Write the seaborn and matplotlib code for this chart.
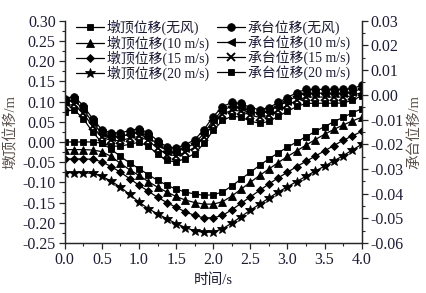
import numpy as np
import pandas as pd
import matplotlib
matplotlib.use("Agg")
import matplotlib.pyplot as plt
import seaborn as sns
from matplotlib.ticker import MultipleLocator

# ---- data ----
time_s = [0.0, 0.125, 0.25, 0.375, 0.5, 0.625, 0.75, 0.875, 1.0, 1.125, 1.25, 1.375,
          1.5, 1.625, 1.75, 1.875, 2.0, 2.125, 2.25, 2.375, 2.5, 2.625, 2.75, 2.875,
          3.0, 3.125, 3.25, 3.375, 3.5, 3.625, 3.75, 3.875, 4.0]

# pier-top displacement (left axis, m)
pier_nowind = [0.000, 0.000, 0.000, 0.000, -0.003, -0.018, -0.036, -0.052, -0.066, -0.081,
               -0.095, -0.107, -0.117, -0.124, -0.129, -0.132, -0.131, -0.124, -0.109, -0.092,
               -0.075, -0.058, -0.042, -0.027, -0.013, 0.000, 0.013, 0.026, 0.038, 0.050,
               0.061, 0.072, 0.082]
pier_10 = [-0.019, -0.019, -0.019, -0.020, -0.024, -0.036, -0.053, -0.069, -0.083, -0.098,
           -0.112, -0.124, -0.135, -0.144, -0.150, -0.154, -0.154, -0.148, -0.134, -0.117,
           -0.100, -0.083, -0.067, -0.051, -0.036, -0.022, -0.008, 0.006, 0.019, 0.031,
           0.042, 0.052, 0.061]
pier_15 = [-0.042, -0.042, -0.042, -0.043, -0.049, -0.061, -0.075, -0.091, -0.107, -0.122,
           -0.137, -0.150, -0.162, -0.173, -0.182, -0.188, -0.188, -0.182, -0.168, -0.152,
           -0.136, -0.120, -0.104, -0.089, -0.075, -0.061, -0.048, -0.035, -0.022, -0.009,
           0.004, 0.015, 0.026]
pier_20 = [-0.076, -0.076, -0.076, -0.078, -0.085, -0.097, -0.112, -0.130, -0.149, -0.165,
           -0.178, -0.190, -0.202, -0.212, -0.220, -0.224, -0.223, -0.215, -0.201, -0.185,
           -0.169, -0.154, -0.139, -0.124, -0.111, -0.098, -0.085, -0.072, -0.060, -0.047,
           -0.034, -0.020, -0.006]

# pile-cap displacement (right axis, m)
cap_nowind = [-0.0015, -0.0007, -0.0044, -0.0097, -0.0141, -0.0154, -0.0154, -0.0145, -0.0137,
              -0.0154, -0.0186, -0.0211, -0.0215, -0.0202, -0.0182, -0.0141, -0.0088, -0.0048,
              -0.0031, -0.0035, -0.0052, -0.0060, -0.0052, -0.0031, -0.0011, 0.0009, 0.0022,
              0.0022, 0.0022, 0.0022, 0.0022, 0.0026, 0.0038]
cap_10 = [-0.0030, -0.0022, -0.0059, -0.0112, -0.0156, -0.0169, -0.0169, -0.0160, -0.0152,
          -0.0169, -0.0201, -0.0226, -0.0230, -0.0217, -0.0197, -0.0156, -0.0103, -0.0063,
          -0.0046, -0.0050, -0.0067, -0.0075, -0.0067, -0.0046, -0.0026, -0.0006, 0.0007,
          0.0007, 0.0007, 0.0007, 0.0007, 0.0012, 0.0025]
cap_15 = [-0.0046, -0.0038, -0.0075, -0.0128, -0.0172, -0.0185, -0.0185, -0.0176, -0.0168,
          -0.0185, -0.0217, -0.0242, -0.0246, -0.0233, -0.0213, -0.0172, -0.0119, -0.0079,
          -0.0062, -0.0066, -0.0083, -0.0091, -0.0083, -0.0062, -0.0042, -0.0022, -0.0009,
          -0.0009, -0.0009, -0.0009, -0.0009, -0.0004, 0.0010]
cap_20 = [-0.0068, -0.0060, -0.0097, -0.0150, -0.0194, -0.0208, -0.0208, -0.0200, -0.0192,
          -0.0208, -0.0240, -0.0266, -0.0272, -0.0258, -0.0238, -0.0197, -0.0144, -0.0104,
          -0.0087, -0.0090, -0.0107, -0.0115, -0.0108, -0.0087, -0.0067, -0.0047, -0.0035,
          -0.0034, -0.0034, -0.0034, -0.0033, -0.0022, -0.0004]

pier_labels = ["墩顶位移(无风)", "墩顶位移(10 m/s)", "墩顶位移(15 m/s)", "墩顶位移(20 m/s)"]
cap_labels = ["承台位移(无风)", "承台位移(10 m/s)", "承台位移(15 m/s)", "承台位移(20 m/s)"]
x_label = "时间/s"
y_left_label = "墩顶位移/m"
y_right_label = "承台位移/m"

# ---- style ----
sns.set_style("ticks")
plt.rcParams["font.family"] = ["Liberation Serif", "Noto Sans CJK SC"]
plt.rcParams["axes.unicode_minus"] = False
TICK_C = "#1c1c3a"
LAB_C = "#5a504a"

fig = plt.figure(figsize=(4.26, 2.93), dpi=100)
ax = fig.add_axes([0.152, 0.171, 0.697, 0.758])
ax2 = ax.twinx()

pier_series = [pier_nowind, pier_10, pier_15, pier_20]
pier_markers = ["s", "^", "D", "*"]
pier_ms = [5, 5.5, 4.5, 7.5]
cap_series = [cap_nowind, cap_10, cap_15, cap_20]
cap_markers = ["o", "<", "x", "s"]
cap_ms = [5.5, 5.5, 5.5, 5]

for vals, mk, ms, lab in zip(pier_series, pier_markers, pier_ms, pier_labels):
    df = pd.DataFrame({"t": time_s, "v": vals})
    sns.lineplot(data=df, x="t", y="v", ax=ax, color="black", marker=mk,
                 markersize=ms, linewidth=0.9, markeredgewidth=0.6,
                 markeredgecolor="black", label=lab, legend=False)

for vals, mk, ms, lab in zip(cap_series, cap_markers, cap_ms, cap_labels):
    df = pd.DataFrame({"t": time_s, "v": vals})
    sns.lineplot(data=df, x="t", y="v", ax=ax2, color="black", marker=mk,
                 markersize=ms, linewidth=0.9,
                 markeredgewidth=1.4 if mk == "x" else 0.6,
                 markeredgecolor="black", label=lab, legend=False)

ax.set_xlim(0, 4.0)
ax.set_ylim(-0.25, 0.30)
ax2.set_ylim(-0.06, 0.03)

ax.xaxis.set_major_locator(MultipleLocator(0.5))
ax.xaxis.set_minor_locator(MultipleLocator(0.25))
ax.yaxis.set_major_locator(MultipleLocator(0.05))
ax.yaxis.set_minor_locator(MultipleLocator(0.025))
ax2.yaxis.set_major_locator(MultipleLocator(0.01))
ax2.yaxis.set_minor_locator(MultipleLocator(0.005))

ax.xaxis.set_major_formatter(matplotlib.ticker.FormatStrFormatter("%.1f"))
ax.yaxis.set_major_formatter(matplotlib.ticker.FormatStrFormatter("%.2f"))
ax2.yaxis.set_major_formatter(matplotlib.ticker.FormatStrFormatter("%.2f"))

for a in (ax, ax2):
    a.spines["top"].set_visible(False)
    for s in a.spines.values():
        s.set_linewidth(0.9)
    a.tick_params(which="major", direction="out", length=4, width=0.9,
                  labelsize=11.5, labelcolor=TICK_C, pad=2.5)
    a.tick_params(which="minor", direction="out", length=2.5, width=0.8)

ax.set_xlabel(x_label, fontsize=10.5, color=TICK_C, labelpad=4)
ax.set_ylabel(y_left_label, fontsize=10.5, color=LAB_C, labelpad=3)
ax2.set_ylabel(y_right_label, fontsize=10.5, color=LAB_C, labelpad=3)

h1, l1 = ax.get_legend_handles_labels()
h2, l2 = ax2.get_legend_handles_labels()
leg = ax2.legend(h1 + h2, l1 + l2, ncol=2, loc="upper left",
                 bbox_to_anchor=(0.163, 0.955), bbox_transform=fig.transFigure,
                 frameon=False, fontsize=10, handlelength=2.0, handletextpad=0.2,
                 columnspacing=0.6, labelspacing=0.0, borderpad=0.0)
for t in leg.get_texts():
    t.set_color(TICK_C)

fig.savefig("out.png", dpi=100)
